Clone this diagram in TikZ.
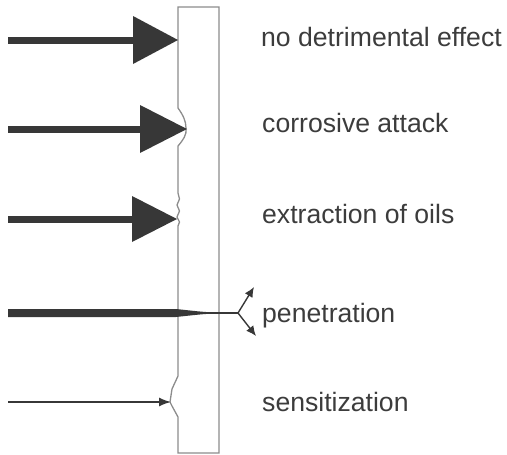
\documentclass[tikz,border=0pt]{standalone}
\usepackage{fontspec}
\setmainfont{Liberation Sans}
\usetikzlibrary{arrows.meta}
\definecolor{ink}{RGB}{55,55,55}
\definecolor{wallc}{RGB}{140,140,140}
\definecolor{txtc}{RGB}{60,60,60}
\begin{document}
\begin{tikzpicture}[x=1pt,y=-1pt,
  lbl/.style={anchor=base west,inner sep=0pt,text=txtc,font=\fontsize{26.6}{30}\selectfont},
  shaft/.style={draw=ink,line width=7pt},
  headtri/.style={fill=ink},
  wall/.style={draw=wallc,line width=1.3pt,line join=miter}]
\useasboundingbox (0,0) rectangle (507,455);
% wall with surface damage
\draw[wall] (178,7) -- (219,7) -- (219,453) -- (178,453) -- (178,417)
  -- (172,406) -- (170,402) -- (172,389) -- (178,376)
  -- (178,226) -- (179.5,222) -- (177,217) -- (179.5,211) -- (177,205) -- (179.5,199) -- (178,193)
  -- (178,146) .. controls (183,140) and (187,135) .. (186,128)
  .. controls (186,121) and (183,115) .. (178,108) -- cycle;
% labels
\node[lbl] (t1) at (261,46) {no detrimental effect};
\node[lbl] (t2) at (262,132) {corrosive attack};
\node[lbl] (t3) at (262,223) {extraction of oils};
\node[lbl] (t4) at (262,322) {penetration};
\node[lbl] (t5) at (262,411) {sensitization};
% arrow 1
\coordinate (a1s) at (8,40); \coordinate (a1h) at (135,40);
\draw[shaft] (a1s) -- (a1h);
\fill[headtri] (133,16) -- (178,40) -- (133,64) -- cycle;
% arrow 2
\coordinate (a2s) at (8,129); \coordinate (a2h) at (143,129);
\draw[shaft] (a2s) -- (a2h);
\fill[headtri] (140,105) -- (187,129) -- (140,153) -- cycle;
% arrow 3
\coordinate (a3s) at (8,219); \coordinate (a3h) at (134,219);
\draw[shaft] (a3s) -- (a3h);
\fill[headtri] (132,196) -- (177,219) -- (132,242) -- cycle;
% penetration
\coordinate (p0) at (8,313); \coordinate (p1) at (238,313);
\coordinate (pu) at (254,287); \coordinate (pd) at (256,336);
\fill[ink] (8,309) -- (176,309) .. controls (195,311) and (205,312.3) .. (215,312.4)
  -- (215,313.6) .. controls (205,313.7) and (195,315) .. (176,317) -- (8,317) -- cycle;
\draw[ink,line width=1.4pt] (p0) -- (p1);
\draw[ink,line width=1.4pt,-{Latex[length=10pt,width=9pt]}] (p1) -- (pu);
\draw[ink,line width=1.4pt,-{Latex[length=10pt,width=9pt]}] (p1) -- (pd);
% sensitization
\coordinate (s0) at (8,402); \coordinate (s1) at (171,402);
\draw[ink,line width=1.4pt,-{Latex[length=12pt,width=9pt]}] (s0) -- (s1);
\end{tikzpicture}
\end{document}
